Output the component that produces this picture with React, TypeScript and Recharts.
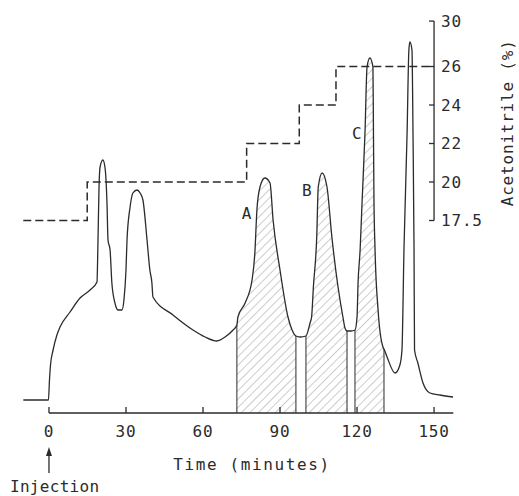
import {
  ComposedChart,
  Line,
  Area,
  XAxis,
  YAxis,
  ReferenceLine,
  ReferenceDot,
} from 'recharts'

// chromatogram trace (time in minutes, detector response in arbitrary units)
const times = [
  -10, -0.8, -0.2, 0.2, 0.6, 1.6, 3.1, 4.3, 8.2, 12.1, 16.0, 18.7, 19.1, 19.5, 19.9, 21.0,
  21.8, 22.6, 23.0, 23.8, 24.5, 25.7, 26.9, 28.4, 29.2, 30.0, 30.4, 31.6, 32.7, 34.3, 35.5,
  36.6, 38.2, 39.3, 40.1, 40.5, 48.3, 56.1, 60.8, 65.4, 68.6, 71.7, 73.2, 73.6, 76.4, 79.1,
  80.2, 81.0, 82.2, 84.1, 86.1, 87.3, 90.0, 93.1, 94.7, 96.2, 97.8, 100.1, 101.7, 102.3,
  103.0, 104.3, 104.9, 106.4, 108.3, 110.2, 112.6, 114.5, 115.3, 116.1, 117.6, 119.2, 120.0,
  120.4, 121.2, 122.0, 123.1, 123.9, 125.0, 126.2, 126.4, 126.6, 127.0, 128.2, 130.1, 130.5,
  131.7, 134.8, 136.7, 137.5, 138.3, 139.5, 140.2, 140.6, 141.4, 141.8, 142.2, 142.4, 143.7,
  145.7, 148.4, 152.3, 157.4,
]
const signal = [
  13, 13, 13, 33, 48, 63, 78, 86, 101, 115, 123, 131, 173, 226, 246, 253,
  246, 210, 173, 163, 130, 110, 103, 103, 113, 143, 173, 206, 220, 223, 220,
  213, 173, 143, 130, 116, 98, 83, 76, 72, 76, 83, 88, 96, 110, 133,
  160, 203, 226, 235, 230, 193, 143, 96, 83, 77, 76, 77, 90, 96,
  126, 176, 226, 240, 226, 176, 126, 96, 85, 82, 82, 83, 96,
  130, 163, 213, 280, 346, 355, 346, 280, 213, 165, 103, 66, 64,
  56, 40, 48, 63, 165, 280, 363, 371, 363, 280, 165, 63, 50,
  30, 20, 18, 16,
]

// collected fractions (hatched)
const fractionStart = [73.2, 100.1, 119.2]
const fractionEnd = [96.2, 116.1, 130.5]
const fractionNames = ['A', 'B', 'C']
const fractionLabelT = [77.0, 100.4, 119.9]
const fractionLabelV = [200, 223, 280]

// acetonitrile step gradient
const gradientTimes = [-10, 14.9, 77.0, 97.5, 111.8, 150]
const gradientPct = [17.5, 20, 22, 24, 26, 26]

// right axis: hand drawn, ticks are not evenly spaced in %
const pctTicks = [17.5, 20, 22, 24, 26, 30]
const pctTickLevels = [0, 1, 2, 3, 4, 5.18]
const pctTickLabels = ['17.5', '20', '22', '24', '26', '30']

const xTicks = [0, 30, 60, 90, 120, 150]

const INK = '#2b2b2b'
const FONT = '"DejaVu Sans Mono", monospace'
const AXIS_T = 150
const TICK_T = 1.95

const chartData = times.map((t, i) => ({ t, signal: signal[i] }))
const fractionData = fractionStart.map((s, k) =>
  chartData.filter((d) => d.t >= s && d.t <= fractionEnd[k])
)
const valueAt = (t: number) => chartData.find((d) => d.t === t)?.signal ?? 0
const levelOf = (p: number) => pctTickLevels[pctTicks.indexOf(p)]
const gradientData = gradientTimes.map((t, i) => ({ t, level: levelOf(gradientPct[i]) }))

function TimeTick({ x, y, payload }: any) {
  return (
    <g>
      <line x1={x} y1={y} x2={x} y2={y - 6} stroke={INK} strokeWidth={1.3} />
      <text x={x} y={y + 24} textAnchor="middle" fill={INK} fontSize={16} fontFamily={FONT} letterSpacing={0.8}>
        {payload.value}
      </text>
      {payload.value === 0 && (
        <g>
          <line x1={x} y1={y + 40} x2={x} y2={y + 60} stroke={INK} strokeWidth={1.3} />
          <polygon points={`${x - 3},${y + 43} ${x + 3},${y + 43} ${x},${y + 34}`} fill={INK} />
          <text x={x - 39} y={y + 79} fill={INK} fontSize={16} fontFamily={FONT} letterSpacing={0.3}>
            Injection
          </text>
        </g>
      )}
    </g>
  )
}

export default function App() {
  return (
    <div style={{ position: 'absolute', left: 0, top: 0, background: '#fff' }}>
      <ComposedChart
        width={519}
        height={496}
        data={chartData}
        margin={{ top: 13, right: 65.7, bottom: 53, left: 23.3 }}
      >
        <defs>
          <pattern id="hatch" width="6" height="6" patternUnits="userSpaceOnUse" patternTransform="rotate(45)">
            <line x1="0" y1="0" x2="0" y2="6" stroke="#808080" strokeWidth="0.8" />
          </pattern>
        </defs>

        <XAxis
          dataKey="t"
          type="number"
          domain={[-10, 157.5]}
          ticks={xTicks}
          interval={0}
          axisLine={false}
          tickLine={false}
          tickSize={0}
          tickMargin={0}
          height={30}
          tick={<TimeTick />}
          label={(p: any) =>
            p?.viewBox ? (
              <text
                x={p.viewBox.x + 228.7}
                y={p.viewBox.y + 57}
                textAnchor="middle"
                fill={INK}
                fontSize={16}
                fontFamily={FONT}
                letterSpacing={1.6}
              >
                Time (minutes)
              </text>
            ) : null
          }
        />
        <YAxis yAxisId="signal" hide domain={[0, 400]} />
        <YAxis yAxisId="pct" hide orientation="right" domain={[-5, 5.39]} />

        {fractionData.map((d, k) => (
          <Area
            key={fractionNames[k]}
            yAxisId="signal"
            data={d}
            dataKey="signal"
            type="monotone"
            stroke="none"
            fill="url(#hatch)"
            fillOpacity={1}
            isAnimationActive={false}
          />
        ))}

        {[...fractionStart, ...fractionEnd].map((b) => (
          <ReferenceLine
            key={'b' + b}
            yAxisId="signal"
            segment={[{ x: b, y: 0 }, { x: b, y: valueAt(b) }]}
            stroke={INK}
            strokeWidth={1}
          />
        ))}

        <ReferenceLine
          yAxisId="signal"
          segment={[{ x: 0, y: 0 }, { x: 157.5, y: 0 }]}
          stroke={INK}
          strokeWidth={1.3}
        />

        <Line
          yAxisId="signal"
          dataKey="signal"
          type="monotone"
          stroke={INK}
          strokeWidth={1.3}
          dot={false}
          isAnimationActive={false}
        />

        <Line
          yAxisId="pct"
          data={gradientData}
          dataKey="level"
          type="stepAfter"
          stroke={INK}
          strokeWidth={1.5}
          strokeDasharray="8 4"
          dot={false}
          isAnimationActive={false}
        />

        <ReferenceLine
          yAxisId="pct"
          segment={[
            { x: AXIS_T, y: pctTickLevels[0] },
            { x: AXIS_T, y: pctTickLevels[pctTickLevels.length - 1] },
          ]}
          stroke={INK}
          strokeWidth={1.3}
          label={(p: any) => {
            if (!p?.viewBox) return null
            const cx = p.viewBox.x + 73
            const cy = p.viewBox.y + p.viewBox.height / 2 + 2
            return (
              <text
                x={cx}
                y={cy}
                transform={`rotate(-90 ${cx} ${cy})`}
                textAnchor="middle"
                dominantBaseline="central"
                fill={INK}
                fontSize={16}
                fontFamily={FONT}
                letterSpacing={0.8}
              >
                Acetonitrile (%)
              </text>
            )
          }}
        />
        {pctTickLevels.map((lv, i) => (
          <ReferenceLine
            key={'pt' + i}
            yAxisId="pct"
            segment={[{ x: AXIS_T - TICK_T, y: lv }, { x: AXIS_T, y: lv }]}
            stroke={INK}
            strokeWidth={1.3}
            label={{
              value: pctTickLabels[i],
              position: 'right',
              offset: 7,
              fill: INK,
              fontSize: 16,
              fontFamily: FONT,
              letterSpacing: 0.8,
            }}
          />
        ))}

        {fractionNames.map((n, k) => (
          <ReferenceDot
            key={n}
            yAxisId="signal"
            x={fractionLabelT[k]}
            y={fractionLabelV[k]}
            r={0}
            fill="none"
            stroke="none"
            label={{ value: n, position: 'center', fill: INK, fontSize: 16, fontFamily: FONT }}
          />
        ))}
      </ComposedChart>
    </div>
  )
}
